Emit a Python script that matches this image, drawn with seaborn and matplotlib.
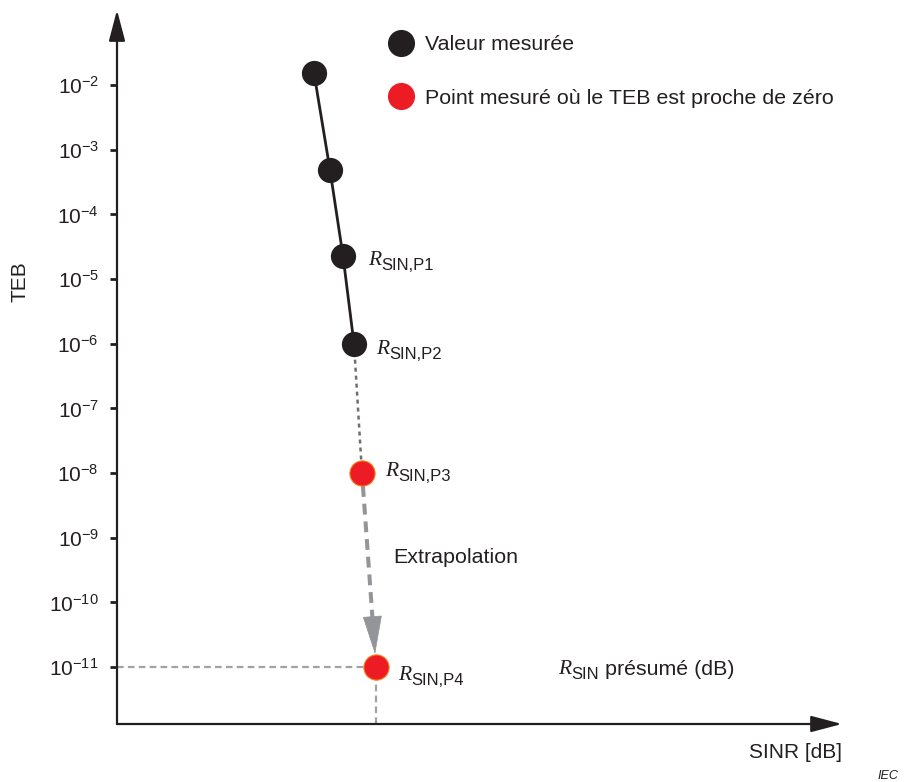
import numpy as np
import pandas as pd
import matplotlib
matplotlib.use("Agg")
import matplotlib.pyplot as plt
import seaborn as sns
from matplotlib.lines import Line2D
from matplotlib.ticker import NullLocator, FixedLocator

# ---- data -------------------------------------------------------------
# measured BER curve (SINR in dB, BER)
sinr_measured = [19.7, 21.3, 22.6, 23.7]
teb_measured = [1.53e-2, 4.85e-4, 2.27e-5, 1.0e-6]
# points where the BER is close to zero
sinr_near_zero = [24.5, 25.9]
teb_near_zero = [1.0e-8, 1.0e-11]

ytick_exponents = [-2, -3, -4, -5, -6, -7, -8, -9, -10, -11]
legend_labels = ["Valeur mesurée", "Point mesuré où le TEB est proche de zéro"]
point_subscripts = ["SIN,P1", "SIN,P2", "SIN,P3", "SIN,P4"]

# ---- style ------------------------------------------------------------
ink = "#231f20"
red = "#ed1c24"
sns.set_theme(style="white")
plt.rcParams["font.family"] = ["Liberation Sans", "DejaVu Sans"]
plt.rcParams["mathtext.fontset"] = "custom"
plt.rcParams["mathtext.rm"] = "Liberation Sans"
plt.rcParams["mathtext.it"] = "Liberation Sans:italic"
plt.rcParams["text.color"] = ink
text_size = 15.4

W, H = 906, 782
fig = plt.figure(figsize=(W / 100, H / 100), dpi=100)
ax = fig.add_axes([117 / W, 58 / H, 725 / W, 714 / H])
ax.set_yscale("log")
ax.set_xlim(0, 72.5)
ax.set_ylim(10 ** -11.88, 10 ** -0.84)

for s in ax.spines.values():
    s.set_visible(False)
ax.set_xticks([])
ax.yaxis.set_major_locator(FixedLocator([10.0 ** e for e in ytick_exponents]))
ax.yaxis.set_minor_locator(NullLocator())
ax.tick_params(axis="y", which="major", left=True, length=5, width=2,
               color=ink, pad=8, labelsize=15, labelcolor=ink, direction="out")
ax.set_ylabel("")
ax.set_xlabel("")

# axes drawn as arrows
axis_arrow = dict(arrowstyle="-|>,head_length=1.9,head_width=0.5", lw=1.6,
                  color=ink, shrinkA=0, shrinkB=0, mutation_scale=10)
ax.annotate("", xy=(0, 1), xytext=(0, 0), xycoords="axes fraction",
            arrowprops=axis_arrow, annotation_clip=False)
ax.annotate("", xy=(1, 0), xytext=(0, 0), xycoords="axes fraction",
            arrowprops=axis_arrow, annotation_clip=False)

# measured curve
sns.lineplot(x=sinr_measured, y=teb_measured, color=ink, lw=2.0, sort=False,
             ax=ax, zorder=2)

# dotted continuation to the first near-zero point
ax.plot([sinr_measured[-1], sinr_near_zero[0]], [teb_measured[-1], teb_near_zero[0]],
        color="#6d6e71", lw=1.8, ls=(0, (1.6, 1.6)), zorder=1)

# reference lines at the presumed point
x4, y4 = sinr_near_zero[1], teb_near_zero[1]
ax.plot([0, x4], [y4, y4], color="#a0a2a5", lw=1.6, ls=(0, (3.0, 1.9)), zorder=1)
ax.plot([x4, x4], [ax.get_ylim()[0], y4], color="#a0a2a5", lw=1.6,
        ls=(0, (3.0, 1.9)), zorder=1)

# extrapolation arrow between the two near-zero points
fig.canvas.draw()
to_disp = ax.transData
p3 = to_disp.transform((sinr_near_zero[0], teb_near_zero[0]))
p4 = to_disp.transform((x4, y4))
u = (p4 - p3) / np.hypot(*(p4 - p3))
marker_r = 13.0
tip = p4 - u * marker_r
base = tip - u * 36.0
start = p3 + u * marker_r
inv = to_disp.inverted()
start_d, base_d, tip_d = inv.transform(start), inv.transform(base), inv.transform(tip)
ax.plot([start_d[0], base_d[0]], [start_d[1], base_d[1]], color="#939598", lw=2.9,
        ls=(0, (2.7, 1.7)), zorder=1)
ax.annotate("", xy=tuple(tip_d), xytext=tuple(base_d),
            arrowprops=dict(arrowstyle="-|>,head_length=2.6,head_width=0.65",
                            color="#939598", lw=0.5, shrinkA=0, shrinkB=0,
                            mutation_scale=10), zorder=1)

# markers
sns.scatterplot(x=sinr_measured, y=teb_measured, color=ink, s=330, edgecolor=ink,
                linewidth=0, ax=ax, zorder=3, legend=False)
sns.scatterplot(x=sinr_near_zero, y=teb_near_zero, color=red, s=330,
                edgecolor="#f58220", linewidth=0.8, ax=ax, zorder=3, legend=False)

# legend
handles = [
    Line2D([], [], ls="", marker="o", markersize=18.5, markerfacecolor=ink,
           markeredgecolor=ink),
    Line2D([], [], ls="", marker="o", markersize=18.5, markerfacecolor=red,
           markeredgecolor=red),
]
ax.legend(handles, legend_labels, loc="upper left", frameon=False, fontsize=text_size,
          bbox_to_anchor=(388.5 / W, 1 - 35 / H), bbox_transform=fig.transFigure,
          borderpad=0, borderaxespad=0, handlelength=1.17, handletextpad=0.53,
          labelspacing=1.62)

renderer = fig.canvas.get_renderer()


def r_label(xy, dx, dy, sub, xycoords="data"):
    """Italic R followed by a sans-serif subscript; returns right end in points."""
    t = ax.annotate("R", xy=xy, xycoords=xycoords, xytext=(dx, dy),
                    textcoords="offset points", fontsize=15.5,
                    family="Liberation Serif", style="italic", color=ink,
                    va="baseline", ha="left")
    w = t.get_window_extent(renderer).width * 72 / fig.dpi
    s = ax.annotate(sub, xy=xy, xycoords=xycoords, xytext=(dx + w + 0.2, dy - 3.5),
                    textcoords="offset points", fontsize=12, color=ink,
                    va="baseline", ha="left")
    ws = s.get_window_extent(renderer).width * 72 / fig.dpi
    return dx + w + 0.2 + ws


label_points = [
    (sinr_measured[2], teb_measured[2]),
    (sinr_measured[3], teb_measured[3]),
    (sinr_near_zero[0], teb_near_zero[0]),
    (sinr_near_zero[1], teb_near_zero[1]),
]
label_offsets = [(18, -6.5), (16, -7.2), (16.5, -2.2), (16, -9.4)]
for pt, (dx, dy), sub in zip(label_points, label_offsets, point_subscripts):
    r_label(pt, dx, dy, sub)

# presumed SINR label
end = r_label((0.608, 0.070), 0, 0, "SIN", xycoords="axes fraction")
ax.annotate("présumé (dB)", xy=(0.608, 0.070), xycoords="axes fraction",
            xytext=(end + 4.5, -0.5), textcoords="offset points", fontsize=text_size,
            color=ink, va="baseline", ha="left")

ax.text(0.381, 0.2255, "Extrapolation", transform=ax.transAxes, fontsize=text_size,
        color=ink, va="baseline", ha="left")

# axis titles
fig.text(19.5 / W, 1 - 282 / H, "TEB", rotation=90, fontsize=15, color=ink,
         ha="center", va="center")
fig.text(842 / W, 1 - 758 / H, "SINR [dB]", fontsize=15, color=ink,
         ha="right", va="baseline")
fig.text(877 / W, 1 - 779 / H, "IEC", fontsize=9, style="italic", color=ink,
         ha="left", va="baseline")

fig.savefig("out.png", dpi=100)
